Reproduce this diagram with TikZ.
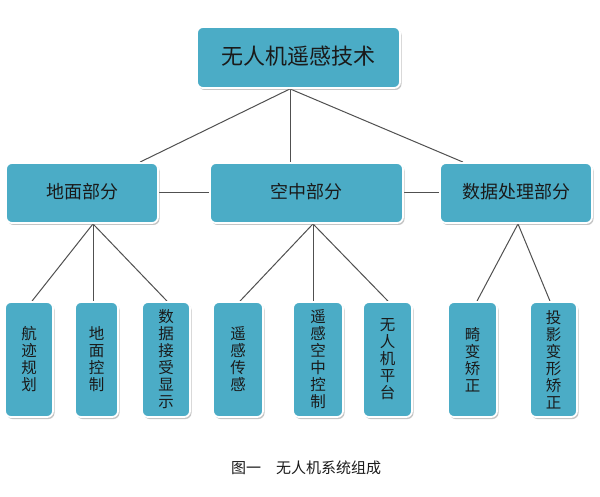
\documentclass[tikz,border=0pt]{standalone}
\usepackage{fontspec}
\setmainfont{Noto Sans CJK SC}
\usetikzlibrary{shadows,backgrounds,calc}
\definecolor{boxfill}{HTML}{4BACC6}
\definecolor{linegray}{HTML}{505050}
\definecolor{txt}{HTML}{1A1A1A}
\tikzset{
  box/.style={draw=white, line width=1.8pt, fill=boxfill, rounded corners=6pt,
    drop shadow={shadow xshift=1.5pt, shadow yshift=-2pt, opacity=0.45},
    text=txt, inner sep=0pt, align=center},
  conn/.style={draw=linegray, line width=1pt},
}
\begin{document}
\begin{tikzpicture}[x=1pt,y=-1pt]
\useasboundingbox (0,0) rectangle (600,497);
\node[box, minimum width=203pt, minimum height=61pt, font=\fontsize{22}{24}\selectfont] (top) at (298.5,57.5) {\raisebox{4pt}{无人机遥感技术}};
\node[box, minimum width=152pt, minimum height=60pt, font=\fontsize{18}{20}\selectfont] (g) at (82,193) {\raisebox{5pt}{地面部分}};
\node[box, minimum width=193pt, minimum height=60pt, font=\fontsize{18}{20}\selectfont] (k) at (306.5,193) {\raisebox{5pt}{空中部分}};
\node[box, minimum width=152pt, minimum height=60pt, font=\fontsize{18}{20}\selectfont] (d) at (516,193) {\raisebox{5pt}{数据处理部分}};
\tikzset{leaf/.style={box, minimum height=115pt, font=\fontsize{15.5}{17}\selectfont}}
\node[leaf, minimum width=48pt] (b1) at (29,359.5) {航\\迹\\规\\划};
\node[leaf, minimum width=43pt] (b2) at (96.5,359.5) {地\\面\\控\\制};
\node[leaf, minimum width=48pt] (b3) at (166,359.5) {数\\据\\接\\受\\显\\示};
\node[leaf, minimum width=50pt] (b4) at (238,359.5) {遥\\感\\传\\感};
\node[leaf, minimum width=50pt] (b5) at (318,359.5) {遥\\感\\空\\中\\控\\制};
\node[leaf, minimum width=49pt] (b6) at (387.5,359.5) {无\\人\\机\\平\\台};
\node[leaf, minimum width=49pt] (b7) at (472.5,359.5) {畸\\变\\矫\\正};
\node[leaf, minimum width=47pt] (b8) at (553.5,359.5) {投\\影\\变\\形\\矫\\正};
\node[text=txt, font=\fontsize{15}{17}\selectfont] (cap) at (306,468) {图一\hspace{1em}无人机系统组成};
\begin{scope}[on background layer]
\fill[white] (0,0) rectangle (600,497);
\coordinate (ta) at ($(top.south)+(-8.5,0)$);
\coordinate (ga) at ($(g.south)+(11,0)$);
\coordinate (ka) at ($(k.south)+(6.5,0)$);
\coordinate (da) at ($(d.south)+(2,0)$);
\draw[conn] (ta) -- ($(g.north)+(58,0)$);
\draw[conn] (ta) -- ($(k.north)+(-16.5,0)$);
\draw[conn] (ta) -- ($(d.north)+(-53,0)$);
\draw[conn] (g.east) -- (k.west);
\draw[conn] (k.east) -- (d.west);
\draw[conn] (ga) -- ($(b1.north)+(3,0)$);
\draw[conn] (ga) -- ($(b2.north)+(-3.5,0)$);
\draw[conn] (ga) -- ($(b3.north)+(1,0)$);
\draw[conn] (ka) -- ($(b4.north)+(2,0)$);
\draw[conn] (ka) -- ($(b5.north)+(-5,0)$);
\draw[conn] (ka) -- ($(b6.north)+(0.5,0)$);
\draw[conn] (da) -- ($(b7.north)+(4.5,0)$);
\draw[conn] (da) -- ($(b8.north)+(-3.5,0)$);
\end{scope}
\end{tikzpicture}
\end{document}
